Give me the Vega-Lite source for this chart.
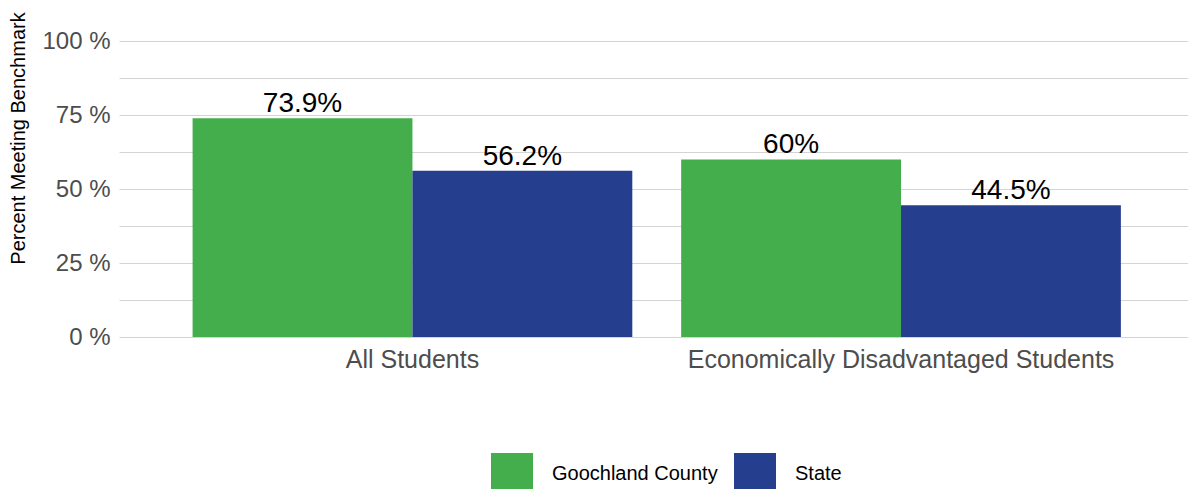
{
  "$schema": "https://vega.github.io/schema/vega-lite/v6.json",
  "width": 1069,
  "height": 296,
  "autosize": {"type": "none"},
  "padding": {"left": 119, "top": 41, "right": 0, "bottom": 152},
  "background": "white",
  "data": {
    "values": [
      {"group": "All Students", "series": "Goochland County", "value": 73.9, "label": "73.9%"},
      {"group": "All Students", "series": "State", "value": 56.2, "label": "56.2%"},
      {"group": "Economically Disadvantaged Students", "series": "Goochland County", "value": 60, "label": "60%"},
      {"group": "Economically Disadvantaged Students", "series": "State", "value": 44.5, "label": "44.5%"}
    ]
  },
  "encoding": {
    "x": {
      "field": "group",
      "type": "nominal",
      "sort": ["All Students", "Economically Disadvantaged Students"],
      "scale": {"paddingInner": 0.1, "paddingOuter": 0.144, "align": 0.523},
      "axis": {
        "title": null,
        "labelAngle": 0,
        "domain": false,
        "ticks": false,
        "labelPadding": 10,
        "labelLimit": 0,
        "labelFont": "Liberation Sans",
        "labelFontSize": 25,
        "labelColor": "#4d4d4d"
      }
    },
    "xOffset": {
      "field": "series",
      "type": "nominal",
      "scale": {"paddingInner": 0, "paddingOuter": 0}
    },
    "y": {
      "field": "value",
      "type": "quantitative",
      "scale": {"domain": [0, 100], "nice": false},
      "axis": {
        "title": "Percent Meeting Benchmark",
        "titleFont": "Liberation Sans",
        "titleFontSize": 20,
        "titleFontWeight": "normal",
        "titleColor": "black",
        "titlePadding": 13,
        "titleY": 97,
        "values": [0, 12.5, 25, 37.5, 50, 62.5, 75, 87.5, 100],
        "labelExpr": "datum.value % 25 == 0 ? datum.value + ' %' : ''",
        "domain": false,
        "ticks": false,
        "labelPadding": 9,
        "labelFont": "Liberation Sans",
        "labelFontSize": 24,
        "labelColor": "#4d4d4d",
        "gridColor": "#d4d4d4",
        "gridWidth": 1
      }
    }
  },
  "layer": [
    {
      "mark": {"type": "bar"},
      "encoding": {
        "color": {
          "field": "series",
          "type": "nominal",
          "scale": {"domain": ["Goochland County", "State"], "range": ["#44ad4c", "#253f8e"]},
          "legend": {
            "title": null,
            "orient": "none",
            "direction": "horizontal",
            "legendX": 372,
            "legendY": 412,
            "symbolType": "square",
            "symbolSize": 1764,
            "symbolStrokeWidth": 0,
            "symbolOpacity": 1,
            "labelFont": "Liberation Sans",
            "labelFontSize": 20,
            "labelLimit": 0,
            "labelColor": "black",
            "labelOffset": 19,
            "columnPadding": 16
          }
        }
      }
    },
    {
      "mark": {
        "type": "text",
        "baseline": "alphabetic",
        "dy": -6,
        "font": "Liberation Sans",
        "fontSize": 28,
        "color": "black"
      },
      "encoding": {"text": {"field": "label"}}
    }
  ],
  "config": {"view": {"stroke": null}}
}
